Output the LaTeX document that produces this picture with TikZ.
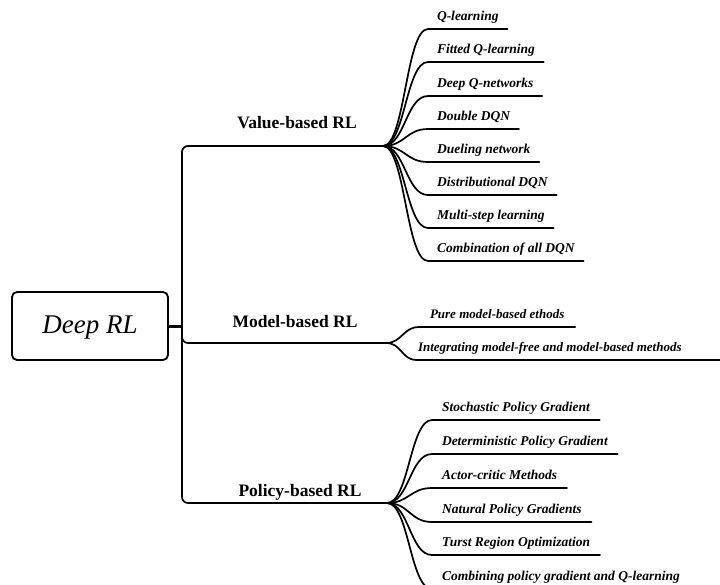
\documentclass[tikz,border=0pt]{standalone}
\usepackage{fontspec}
\setmainfont{Liberation Serif}
\begin{document}
\begin{tikzpicture}[x=1pt,y=-1pt,
  conn/.style={line width=1.7pt, line cap=round, line join=round},
  cat/.style={font=\fontsize{17.5}{20}\selectfont\bfseries, anchor=base, inner sep=0pt},
  leaf/.style={font=\fontsize{13.5}{16}\selectfont\bfseries\itshape, anchor=south west,
    inner xsep=9pt, inner ysep=0pt, outer sep=0pt, text depth=9pt, text height=10pt},
  pleaf/.style={leaf, inner xsep=10pt},
  mleaf/.style={leaf, font=\fontsize{13}{15}\selectfont\bfseries\itshape, inner xsep=11pt},
  rootbox/.style={draw, rounded corners=5pt, line width=1.8pt, minimum width=156pt,
    minimum height=68pt, inner sep=0pt, text height=18pt, text depth=4pt,
    font=\fontsize{27}{30}\selectfont\itshape}
]
\useasboundingbox (0,0) rectangle (720,584);

% root
\node[rootbox] (root) at (90,326) {Deep RL};

% trunk and branch origins
\coordinate (tv) at (182,326);
\coordinate (vo) at (383,146);
\coordinate (mo) at (386,343);
\coordinate (po) at (387,503);
\coordinate (re) at (725,0);

\draw[line width=3pt] (root.east) -- (tv);
\draw[conn, rounded corners=6pt] (vo) -| (tv) |- (po);
\draw[conn, rounded corners=6pt] (tv) |- (mo);

% category labels
\node[cat] (vl) at (297,128) {Value-based RL};
\node[cat] (ml) at (295,327) {Model-based RL};
\node[cat] (pl) at (300,496) {Policy-based RL};

% value-based leaves
\node[leaf] (v1) at (428,29)  {Q-learning};
\node[leaf] (v2) at (428,62)  {Fitted Q-learning};
\node[leaf] (v3) at (428,96)  {Deep Q-networks};
\node[leaf] (v4) at (428,129) {Double DQN};
\node[leaf] (v5) at (428,162) {Dueling network};
\node[leaf] (v6) at (428,195) {Distributional DQN};
\node[leaf] (v7) at (428,228) {Multi-step learning};
\node[leaf] (v8) at (428,261) {Combination of all DQN};
\foreach \n in {v1,v2,v3,v4,v5,v6,v7,v8}
  \draw[conn] (vo) .. controls +(22,0) and +(-22,0) .. (\n.south west) -- (\n.south east);

% model-based leaves
\node[mleaf] (m1) at (419,327) {Pure model-based ethods};
\node[mleaf, inner xsep=1pt] (m2) at (417,360) {Integrating model-free and model-based methods};
\draw[conn] (mo) .. controls +(16,0) and +(-16,0) .. (m1.south west) -- (m1.south east);
\draw[conn] (mo) .. controls +(16,0) and +(-16,0) .. (m2.south west) -- (m2.south west -| re);

% policy-based leaves
\node[pleaf] (p1) at (432,420) {Stochastic Policy Gradient};
\node[pleaf] (p2) at (432,454) {Deterministic Policy Gradient};
\node[pleaf] (p3) at (432,488) {Actor-critic Methods};
\node[pleaf] (p4) at (432,522) {Natural Policy Gradients};
\node[pleaf] (p5) at (432,555) {Turst Region Optimization};
\node[pleaf] (p6) at (432,589) {Combining policy gradient and Q-learning};
\foreach \n in {p1,p2,p3,p4,p5,p6}
  \draw[conn] (po) .. controls +(22,0) and +(-22,0) .. (\n.south west) -- (\n.south east);
\end{tikzpicture}
\end{document}
